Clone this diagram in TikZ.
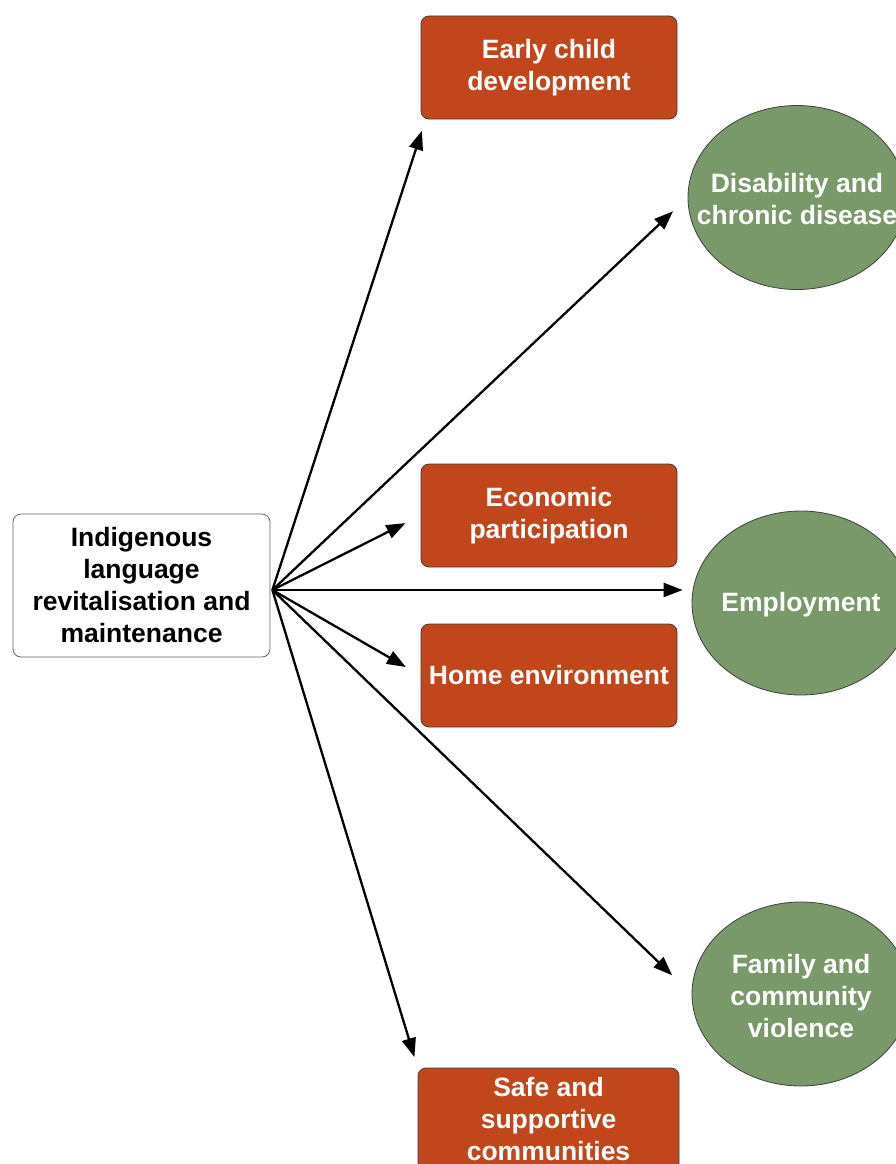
\documentclass[tikz,border=0pt]{standalone}
\usepackage{fontspec}
\setmainfont{Liberation Sans}
\usetikzlibrary{arrows.meta,shapes.geometric}
\definecolor{boxred}{RGB}{193,70,27}
\definecolor{ovalgreen}{RGB}{122,153,107}
\tikzset{
  txt/.style={font=\bfseries\fontsize{26.5}{32}\selectfont, align=center},
  outcome/.style={txt, draw=black!75, fill=boxred, text=white, rounded corners=8pt,
    line width=0.8pt, minimum width=256pt, minimum height=103pt, inner sep=0pt},
  oval/.style={ellipse, draw=black!75, fill=ovalgreen, line width=0.8pt,
    minimum width=218pt, minimum height=184pt, inner sep=0pt},
  ovaltext/.style={txt, text=white, yshift=-2pt},
  link/.style={-{Triangle[length=19pt,width=14pt]}, line width=2.3pt},
}
\begin{document}
\begin{tikzpicture}[x=1pt,y=-1pt]
  \useasboundingbox (0,0) rectangle (896,1164);
  \clip (0,0) rectangle (896,1164);
  \node[txt, draw=black!60, rounded corners=8pt, line width=0.8pt, minimum width=257pt,
    minimum height=143pt, inner sep=0pt] (source) at (141.5,585.5)
    {Indigenous\\language\\revitalisation and\\maintenance};
  \coordinate (hub) at ([shift={(2,4.5)}]source.east);

  \node[outcome] (early) at (549,67.5) {Early child\\development};
  \node[outcome] (economic) at (549,515.5) {Economic\\participation};
  \node[outcome] (home) at (549,675.5) {Home environment};
  \node[outcome, minimum width=261pt] (safe) at (548.5,1119.5) {Safe and\\supportive\\communities};

  \node[oval, label={[ovaltext]center:Disability and\\chronic disease}] (disability) at (797,197.5) {};
  \node[oval, label={[ovaltext]center:Employment}] (employment) at (801,603) {};
  \node[oval, label={[ovaltext]center:Family and\\community\\violence}] (family) at (801,994) {};

  \draw[link, shorten >=12pt] (hub) -- ([xshift=5pt]early.south west);
  \draw[link, shorten >=20pt] (hub) -- (disability.west);
  \draw[link, shorten >=17pt] (hub) -- (economic.west);
  \draw[link, shorten >=9pt] (hub) -- (hub -| employment.west);
  \draw[link, shorten >=17pt] (hub) -- (home.west);
  \draw[link, shorten >=27pt] (hub) -- (family.west);
  \draw[link, shorten >=11pt] (hub) -- (safe.north west);
\end{tikzpicture}
\end{document}
